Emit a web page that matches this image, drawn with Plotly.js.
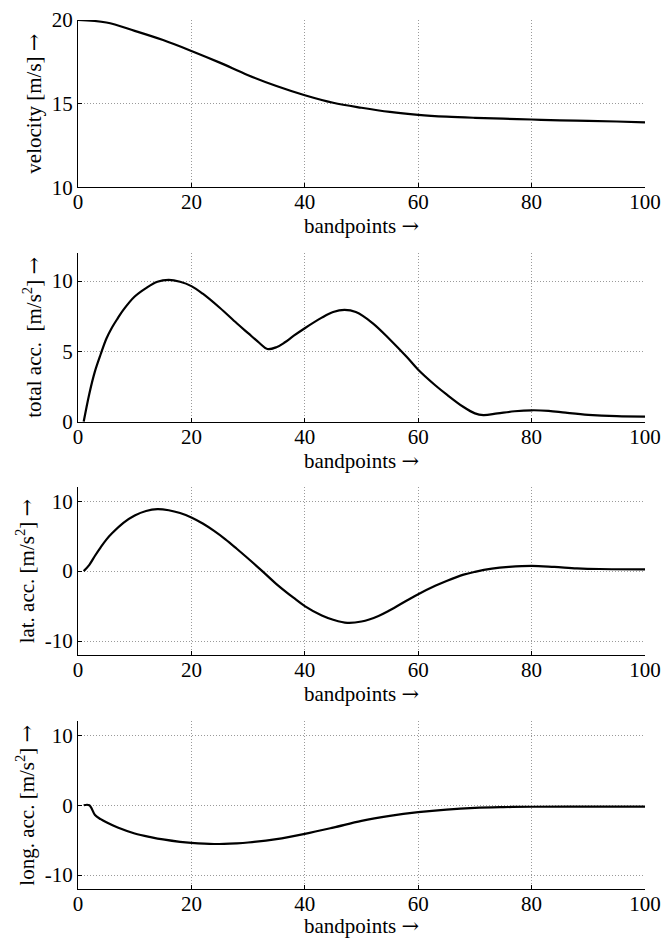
<!DOCTYPE html>
<html>
<head>
<meta charset="utf-8">
<script src="https://cdn.plot.ly/plotly-3.0.1.min.js"></script>
<style>html,body{margin:0;padding:0;background:#fff;}#chart{width:665px;height:938px;}</style>
</head>
<body>
<div id="chart"></div>
<script>
// ---- data ----
const velX = [0,5,10,15,20,25,30,35,40,45,50,55,60,65,70,75,80,85,90,95,100];
const velY = [20.0,19.85,19.35,18.8,18.15,17.45,16.7,16.05,15.5,15.05,14.75,14.5,14.33,14.22,14.15,14.1,14.05,14.0,13.97,13.93,13.88];

const totX = [1,2,3,4,5,6,7,8,10,12,14,16,18,20,22,25,28,30,32,33.4,35,36.5,38,40,43,45,47,49,52,55,58,60,63,65,68,70,71.5,74,77,80,83,86,90,95,100];
const totY = [0,2.0,3.6,4.8,5.9,6.7,7.35,7.95,8.9,9.5,9.95,10.08,9.95,9.64,9.1,8.1,7.0,6.3,5.6,5.17,5.3,5.65,6.1,6.65,7.4,7.8,7.95,7.8,7.0,5.85,4.6,3.7,2.6,1.95,1.05,0.6,0.48,0.6,0.75,0.82,0.78,0.65,0.5,0.4,0.37];

const latX = [1,2,3,4,5,6,8,10,12,14,16,18,20,22,24,26,28,30,32.5,35,38,40,43,45,47.5,50,53,55,58,60,63,65,68,70,73,76,80,84,88,92,100];
const latY = [0,0.9,2.2,3.4,4.5,5.4,6.9,7.95,8.6,8.86,8.7,8.3,7.67,6.8,5.75,4.55,3.2,1.8,0,-1.85,-3.8,-5.0,-6.35,-6.95,-7.4,-7.2,-6.4,-5.6,-4.2,-3.3,-2.1,-1.4,-0.5,-0.1,0.35,0.6,0.75,0.6,0.4,0.3,0.25];

const lonX = [1,2,3,4,5,7,10,13,15,18,20,24,28,30,35,40,45,50,55,60,65,70,75,80,90,100];
const lonY = [0,0,-1.4,-2.0,-2.45,-3.2,-4.05,-4.6,-4.9,-5.25,-5.4,-5.55,-5.45,-5.34,-4.86,-4.1,-3.2,-2.24,-1.53,-1.0,-0.62,-0.38,-0.27,-0.22,-0.2,-0.2];

const xTicks = [0,20,40,60,80,100];
const xTickText = ["0","20","40","60","80","100"];
const velTicks = [10,15,20];
const velTickText = ["10","15","20"];
const totTicks = [0,5,10];
const totTickText = ["0","5","10"];
const accTicks = [-10,0,10];
const accTickText = ["-10","0","10"];

const ARROW = "<span style=\"font-family:'DejaVu Serif'\">→</span>";
const xTitle = "bandpoints " + ARROW;
const yTitles = ["velocity [m/s] " + ARROW, "total acc. &nbsp;[m/s<sup>2</sup>] " + ARROW, "lat. acc. [m/s<sup>2</sup>] " + ARROW, "long. acc. [m/s<sup>2</sup>] " + ARROW];

// ---- chart ----
const font = {family: "Liberation Serif, Times New Roman, serif", size: 21, color: "#000"};
const line = {color: "#000", width: 2.2, shape: "spline", smoothing: 1};

const traces = [
  {x: velX, y: velY, xaxis: "x", yaxis: "y", mode: "lines", line: line},
  {x: totX, y: totY, xaxis: "x2", yaxis: "y2", mode: "lines", line: line},
  {x: latX, y: latY, xaxis: "x3", yaxis: "y3", mode: "lines", line: line},
  {x: lonX, y: lonY, xaxis: "x4", yaxis: "y4", mode: "lines", line: line}
];

const grid = {showgrid: true, gridcolor: "#9a9a9a", griddash: "1px,2px", gridwidth: 1};

function xa(anchor){
  return Object.assign({anchor: anchor, range: [0,100], tickvals: xTicks, ticktext: xTickText,
    showline: true, linecolor: "#000", linewidth: 1, mirror: false,
    ticks: "inside", ticklen: 4, tickcolor: "#000", ticklabelstandoff: -4,
    zeroline: false, tickfont: font,
    title: {text: xTitle, font: font, standoff: 0}}, grid);
}
function ya(anchor, dom, range, tv, tt, title){
  return Object.assign({anchor: anchor, domain: dom, range: range, tickvals: tv, ticktext: tt,
    showline: true, linecolor: "#000", linewidth: 1, mirror: false,
    ticks: "inside", ticklen: 4, tickcolor: "#000",
    zeroline: false, tickfont: font,
    title: {text: title, font: font, standoff: 4}}, grid);
}

const layout = {
  width: 665, height: 938,
  margin: {l: 77.5, r: 19.7, t: 20, b: 48.7},
  paper_bgcolor: "#fff", plot_bgcolor: "#fff",
  showlegend: false,
  font: font,
  xaxis: xa("y"),
  xaxis2: xa("y2"),
  xaxis3: xa("y3"),
  xaxis4: xa("y4"),
  yaxis: ya("x", [0.8076, 1.0], [10,20], velTicks, velTickText, yTitles[0]),
  yaxis2: ya("x2", [0.5376, 0.7320], [0,12], totTicks, totTickText, yTitles[1]),
  yaxis3: ya("x3", [0.2692, 0.4624], [-12,12], accTicks, accTickText, yTitles[2]),
  yaxis4: ya("x4", [0, 0.1928], [-12,12], accTicks, accTickText, yTitles[3])
};

Plotly.newPlot("chart", traces, layout, {staticPlot: true, displayModeBar: false});
</script>
</body>
</html>
